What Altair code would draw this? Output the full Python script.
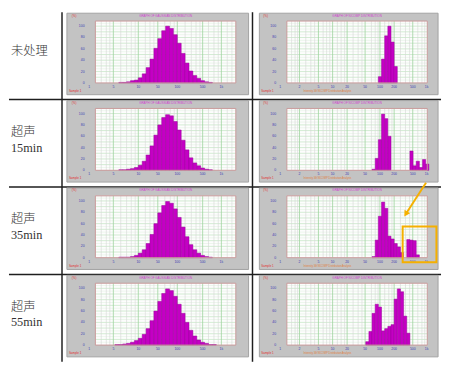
import altair as alt
import pandas as pd

# ---------------- data ----------------
row_labels = [["未处理"], ["超声", "15min"], ["超声", "35min"], ["超声", "55min"]]

# left column: Gaussian distribution, (start channel, % values)
left_start = [6, 6, 6, 5]
left_pct = [
    [1, 1, 2, 4, 5, 9, 16, 27, 42, 61, 78, 92, 100, 96, 85, 70, 52, 35, 21, 13, 8, 4, 2, 1],
    [1, 1, 2, 3, 5, 9, 16, 27, 43, 62, 80, 93, 98, 96, 86, 71, 53, 36, 22, 13, 8, 4, 2, 1],
    [1, 1, 1, 2, 4, 8, 14, 25, 41, 60, 79, 92, 99, 96, 86, 71, 54, 37, 23, 14, 8, 4, 2, 1],
    [1, 1, 2, 3, 5, 8, 12, 19, 29, 43, 60, 77, 91, 99, 96, 86, 72, 56, 40, 26, 16, 9, 5, 3, 1, 1],
]

# right column: NICOMP distribution, segments of (start channel, % values)
right_segments = [
    [(29, [11, 42, 83, 100, 72, 29])],
    [(27, [2, 21, 54, 99, 91, 60]), (39, [34, 8, 16, 5, 19, 11])],
    [(27, [2, 31, 73, 98, 87, 38, 33, 25, 19, 9]), (38, [32, 31, 30, 5])],
    [(25, [6, 24, 56, 72, 67, 25, 29, 33, 36, 81, 99, 94, 51, 21])],
]

left_tick_pos = [-1.6, 4.6, 11.0, 16.0, 21.0, 27.5, 32.3]
left_tick_txt = ["1", "5", "10", "50", "100", "500", "1k"]
right_tick_pos = [-2.1, 4.0, 10.0, 14.5, 19.1, 24.8, 29.5, 34.0, 39.9, 44.3]
right_tick_txt = ["1", "2", "5", "10", "20", "50", "100", "200", "500", "1k"]
y_ticks = [0, 20, 40, 60, 80, 100]

left_grid_major = [4.6, 11.0, 16.0, 21.0, 27.5, 32.3]
right_grid_major = [4.0, 10.0, 14.5, 19.1, 24.8, 29.5, 34.0, 39.9]
left_grid_minor = [1.5, 2.8, 3.7, 6.5, 8.0, 9.2, 10.2, 12.8, 14.0, 15.0, 17.8, 19.2, 20.2,
                   23.0, 24.6, 25.8, 26.8, 29.0, 30.4, 31.5, 33.8, 35.0]
right_grid_minor = [1.5, 2.6, 3.4, 6.0, 7.6, 8.8, 11.5, 12.6, 13.6, 16.0, 17.2, 18.3, 21.0,
                    22.6, 23.8, 26.8, 28.0, 28.9, 31.0, 32.3, 33.3, 36.0, 37.6, 38.9, 41.5,
                    42.8, 43.7]
h_major = [10, 20, 30, 40, 50, 60, 70, 80, 90, 100]
h_minor = [5, 15, 25, 35, 45, 55, 65, 75, 85, 95, 105]

# annotation in the 35min NICOMP panel (data units)
arrow_x = [44.1, 37.7]
arrow_y = [132, 77]
box_x = [36.7, 47.4]
box_y = [-8, 55]

# ---------------- layout / style ----------------
W, H = 143, 63
GRAY = "#c3c3c3"
BAR = "#c400c4"
LINE = "#1e1e1e"
TINY = "Liberation Sans"
one = pd.DataFrame([{"k": 0}])


def hist_panel(kind, r):
    left = kind == "L"
    dom = [0, 36] if left else [0, 44.5]
    xs = alt.Scale(domain=dom, nice=False, zero=False)
    ys = alt.Scale(domain=[0, 109], nice=False)

    def X(f):
        return alt.X(f, scale=xs, axis=None)

    def Y(f):
        return alt.Y(f, scale=ys, axis=None)

    gx0, gx1 = (-29, W + 13) if left else (-28, W + 11)
    layers = []
    layers.append(alt.Chart(one).mark_rect(fill=GRAY, stroke="#a2a2a2", strokeWidth=1).encode(
        x=alt.value(gx0), x2=alt.value(gx1), y=alt.value(-8), y2=alt.value(H + 12)))
    layers.append(alt.Chart(one).mark_rect(fill="#fdfdfd").encode(
        x=alt.value(0), x2=alt.value(W), y=alt.value(0), y2=alt.value(H)))
    # horizontal grid
    layers.append(alt.Chart(pd.DataFrame({"v": h_minor})).mark_rule(color="#e2f1e2", strokeWidth=0.6).encode(
        y=Y("v:Q"), x=alt.value(0), x2=alt.value(W)))
    layers.append(alt.Chart(pd.DataFrame({"v": h_major})).mark_rule(color="#b6e0b6", strokeWidth=0.6).encode(
        y=Y("v:Q"), x=alt.value(0), x2=alt.value(W)))
    # vertical grid
    gmin = left_grid_minor if left else right_grid_minor
    gmaj = left_grid_major if left else right_grid_major
    layers.append(alt.Chart(pd.DataFrame({"p": gmin})).mark_rule(color="#d6d6d6", strokeWidth=0.6).encode(
        x=X("p:Q"), y=alt.value(0), y2=alt.value(H)))
    layers.append(alt.Chart(pd.DataFrame({"p": gmaj})).mark_rule(color="#9ed39e", strokeWidth=0.8).encode(
        x=X("p:Q"), y=alt.value(0), y2=alt.value(H)))
    # bars
    rows = []
    if left:
        for i, v in enumerate(left_pct[r]):
            rows.append({"ch": left_start[r] + i, "pct": v})
    else:
        for start, vals in right_segments[r]:
            for i, v in enumerate(vals):
                rows.append({"ch": start + i, "pct": v})
    layers.append(alt.Chart(pd.DataFrame(rows)).transform_calculate(ch2="datum.ch + 1").mark_rect(
        fill=BAR, stroke="#9a009a", strokeWidth=0.5).encode(
        x=X("ch:Q"), x2="ch2:Q", y=Y("pct:Q"), y2=alt.datum(0)))
    # plot border
    layers.append(alt.Chart(one).mark_rect(fillOpacity=0, stroke="#c99a9a", strokeWidth=1).encode(
        x=alt.value(0), x2=alt.value(W), y=alt.value(0), y2=alt.value(H)))
    # tick labels
    layers.append(alt.Chart(pd.DataFrame({"v": y_ticks})).mark_text(
        align="right", baseline="middle", fontSize=3.5, font=TINY, color="#3c3cb4").encode(
        y=Y("v:Q"), x=alt.value(-11), text=alt.Text("v:Q")))
    tp = left_tick_pos if left else right_tick_pos
    tt = left_tick_txt if left else right_tick_txt
    layers.append(alt.Chart(pd.DataFrame({"p": tp, "t": tt})).mark_text(
        align="center", baseline="top", fontSize=3.5, font=TINY, color="#3c3cb4").encode(
        x=X("p:Q"), y=alt.value(H + 2), text="t:N"))
    # small texts
    title = "GRAPH OF GAUSSIAN DISTRIBUTION" if left else "GRAPH OF NICOMP DISTRIBUTION"
    layers.append(alt.Chart(one).mark_text(text=title, align="center", baseline="middle",
                                           fontSize=3, font=TINY, color="#d040d0").encode(
        x=alt.value(W / 2), y=alt.value(-5.5)))
    layers.append(alt.Chart(one).mark_text(text="(%)", align="left", baseline="middle",
                                           fontSize=3, font=TINY, color="#e03030").encode(
        x=alt.value(-24), y=alt.value(-5.5)))
    layers.append(alt.Chart(one).mark_text(text="Sample 1", align="left", baseline="middle",
                                           fontSize=3, font=TINY, color="#e03030").encode(
        x=alt.value(gx0 + 2), y=alt.value(H + 8)))
    if not left:
        layers.append(alt.Chart(one).mark_text(text="Intensity-Wt NICOMP Distribution Analysis",
                                               align="left", baseline="middle", fontSize=2.6,
                                               font=TINY, color="#e08040").encode(
            x=alt.value(17), y=alt.value(H + 8)))
    # table column lines
    if left:
        for lx in (-34, W + 17):
            layers.append(alt.Chart(one).mark_rule(color=LINE, strokeWidth=1.5).encode(
                x=alt.value(lx), y=alt.value(-9), y2=alt.value(80)))
    # annotation
    if (not left) and r == 2:
        adf = pd.DataFrame({"x": arrow_x, "y": arrow_y, "o": [0, 1]})
        layers.append(alt.Chart(adf).mark_line(color="#f5b000", strokeWidth=2).encode(
            x=X("x:Q"), y=Y("y:Q"), order="o:Q"))
        layers.append(alt.Chart(adf.iloc[[1]]).mark_point(
            shape="triangle-up", filled=True, size=45, angle=212, color="#f5b000", opacity=1).encode(
            x=X("x:Q"), y=Y("y:Q")))
        bdf = pd.DataFrame({"x": [box_x[0]], "x2": [box_x[1]], "y": [box_y[0]], "y2": [box_y[1]]})
        layers.append(alt.Chart(bdf).mark_rect(fillOpacity=0, stroke="#f5b000", strokeWidth=2).encode(
            x=X("x:Q"), x2="x2:Q", y=Y("y:Q"), y2="y2:Q"))
    return alt.layer(*layers).properties(width=W, height=H)


def label_panel(r):
    lines = row_labels[r]
    ypos = [31] if len(lines) == 1 else [24, 40]
    layers = [alt.Chart(one).mark_rule(color="#ffffff" if r == 0 else LINE, strokeWidth=1.5).encode(
        x=alt.value(0), x2=alt.value(440), y=alt.value(-9))]
    for j, t in enumerate(lines):
        layers.append(alt.Chart(one).mark_text(
            text=t, align="left", baseline="middle", fontSize=12.5, fontWeight=300,
            font="Liberation Serif, Noto Sans CJK SC", color="#333333").encode(
            x=alt.value(2), y=alt.value(ypos[j])))
    return alt.layer(*layers).properties(width=36, height=H)


charts = []
for r in range(4):
    charts += [label_panel(r), hist_panel("L", r), hist_panel("R", r)]

chart = alt.concat(*charts, columns=3, spacing={"row": 26, "column": 52}, bounds="flush").properties(
    padding=0).configure_view(strokeWidth=0)

chart.save("out.html", embed_options={"renderer": "svg", "actions": False})
